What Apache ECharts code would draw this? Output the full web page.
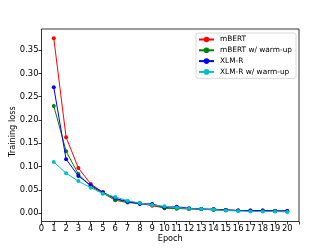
<!DOCTYPE html>
<html>
<head>
<meta charset="utf-8">
<script src="https://cdn.jsdelivr.net/npm/echarts@6/dist/echarts.min.js"></script>
<style>html,body{margin:0;padding:0;background:#fff}#c{width:332px;height:249px}</style>
</head>
<body>
<div id="c"></div>
<script>
const epochs = [1,2,3,4,5,6,7,8,9,10,11,12,13,14,15,16,17,18,19,20];
const mbert = [0.375,0.163,0.097,0.063,0.045,0.030,0.025,0.022,0.016,0.012,0.011,0.009,0.009,0.008,0.007,0.006,0.006,0.006,0.005,0.005];
const mbertWarm = [0.230,0.133,0.084,0.058,0.043,0.028,0.023,0.021,0.019,0.011,0.010,0.010,0.009,0.007,0.007,0.006,0.005,0.005,0.005,0.004];
const xlmr = [0.270,0.116,0.080,0.060,0.045,0.032,0.025,0.020,0.020,0.013,0.014,0.011,0.009,0.009,0.007,0.006,0.006,0.006,0.005,0.005];
const xlmrWarm = [0.110,0.086,0.069,0.055,0.042,0.035,0.027,0.022,0.018,0.015,0.012,0.010,0.009,0.008,0.006,0.005,0.004,0.004,0.004,0.003];
const seriesNames = ['mBERT','mBERT w/ warm-up','XLM-R','XLM-R w/ warm-up'];
const colors = ['#ff0000','#008000','#0000ff','#00bfbf'];
const yTicks = [0,0.35,0.05];

const font = 'DejaVu Sans';
const chart = echarts.init(document.getElementById('c'), null, {renderer:'canvas'});
const allData = [mbert, mbertWarm, xlmr, xlmrWarm];
chart.setOption({
  animation:false,
  backgroundColor:'#fff',
  textStyle:{fontFamily:font},
  grid:[
    {left:41.5, right:33, top:29, bottom:27.5, show:true, borderColor:'#000', borderWidth:0.8, backgroundColor:'transparent', containLabel:false, outerBoundsMode:'none'},
    {left:41.5, right:33, top:50, bottom:35.7, containLabel:false, outerBoundsMode:'none'}
  ],
  legend:{
    orient:'vertical', left:196, top:33, padding:[3,4,3,2], itemGap:3.8,
    itemWidth:15, itemHeight:7, backgroundColor:'rgba(255,255,255,0.8)',
    borderColor:'#d0d0d0', borderWidth:0.8, borderRadius:2,
    textStyle:{fontFamily:font, fontSize:7.4, color:'#000', padding:[0,0,0,1]},
    data:seriesNames
  },
  xAxis:[
    {type:'value', gridIndex:0, min:0, max:20.95, interval:1,
     name:'Epoch', nameLocation:'middle', nameGap:13.5, nameMoveOverlap:false,
     nameTextStyle:{fontFamily:font, fontSize:8.2, color:'#000'},
     axisLine:{show:false}, splitLine:{show:false},
     axisTick:{show:true, length:3, lineStyle:{color:'#000', width:0.8}},
     axisLabel:{fontFamily:font, fontSize:8.4, color:'#000', margin:3,
       formatter:v=> (Math.abs(v-Math.round(v))<1e-6 && v<=20) ? String(Math.round(v)) : ''}},
    {type:'value', gridIndex:1, min:0, max:20.95, show:false}
  ],
  yAxis:[
    {type:'value', gridIndex:0, min:0, max:1, show:false},
    {type:'value', gridIndex:1, min:yTicks[0], max:yTicks[1], interval:yTicks[2],
     name:'Training loss', nameLocation:'middle', nameGap:25, nameMoveOverlap:false,
     nameTextStyle:{fontFamily:font, fontSize:8.2, color:'#000'},
     axisLine:{show:false}, splitLine:{show:false},
     axisTick:{show:true, length:3, lineStyle:{color:'#000', width:0.8}},
     axisLabel:{fontFamily:font, fontSize:8.4, color:'#000', margin:3,
       formatter:v=>v.toFixed(2)}}
  ],
  series: allData.map((arr,i)=>({
    name:seriesNames[i], type:'line', xAxisIndex:1, yAxisIndex:1,
    data:epochs.map((e,j)=>[e,arr[j]]),
    clip:false, symbol:'circle', symbolSize:4, showSymbol:true,
    itemStyle:{color:colors[i]}, lineStyle:{color:colors[i], width:1},
    z:2+i
  }))
});
</script>
</body>
</html>
